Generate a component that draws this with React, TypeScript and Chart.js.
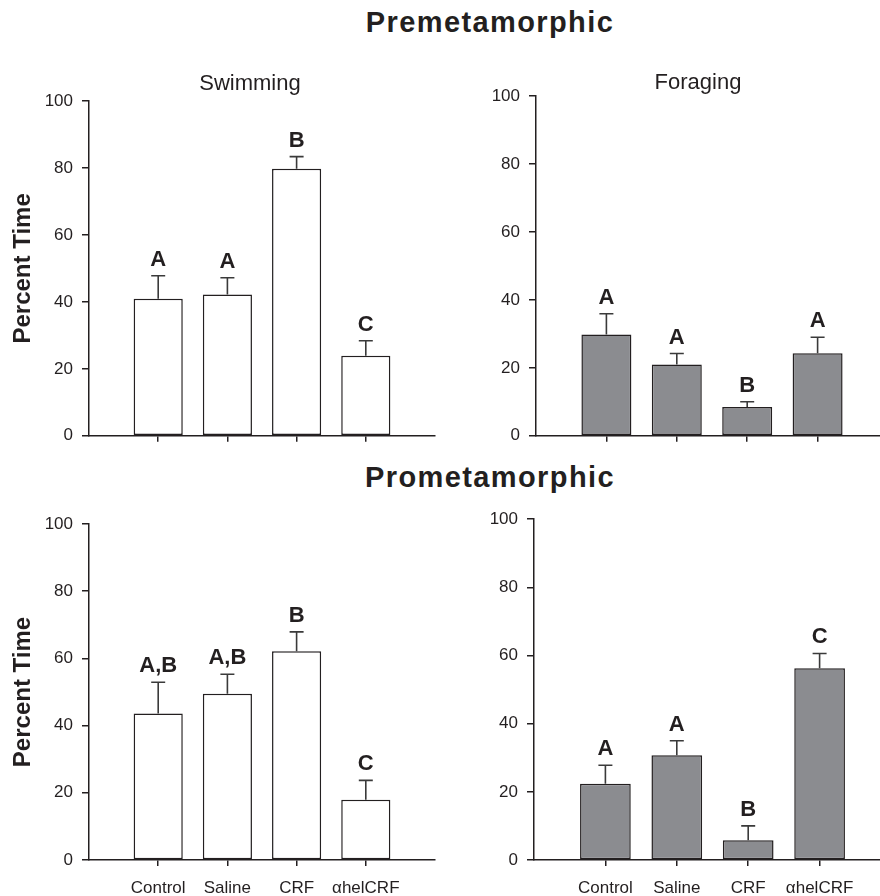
import React, { useEffect, useRef } from 'react';
import { Chart, registerables } from 'chart.js';
Chart.register(...registerables);

const categories = ['Control', 'Saline', 'CRF', 'αhelCRF'];
const yTicks = [0, 20, 40, 60, 80, 100];

const preSwimMean = [40.9, 42.2, 79.8, 23.9];
const preSwimErr = [6.9, 5.0, 3.6, 4.5];
const preSwimSig = ['A', 'A', 'B', 'C'];

const preForageMean = [29.8, 21.0, 8.5, 24.3];
const preForageErr = [6.1, 3.2, 1.5, 4.7];
const preForageSig = ['A', 'A', 'B', 'A'];

const proSwimMean = [43.6, 49.5, 62.1, 17.9];
const proSwimErr = [9.3, 5.8, 5.8, 5.8];
const proSwimSig = ['A,B', 'A,B', 'B', 'C'];

const proForageMean = [22.4, 30.7, 5.8, 56.3];
const proForageErr = [5.4, 4.3, 4.2, 4.3];
const proForageSig = ['A', 'A', 'B', 'C'];

const INK = '#231f20';
const FONT = '"Liberation Sans", Arial, Helvetica, sans-serif';

type Area = { left: number; top: number; right: number; bottom: number };
type PanelProps = {
  left: number; top: number; width: number; height: number;
  area: Area;
  means: number[]; errs: number[]; sigs: string[];
  fill: string;
  subtitle?: string; subX?: number; subY?: number;
  showYTitle: boolean; showXLabels: boolean;
};

function Panel(p: PanelProps) {
  const ref = useRef<HTMLCanvasElement | null>(null);
  useEffect(() => {
    if (!ref.current) return;
    const labels = ['', ...categories, ''];
    const data = [null, ...p.means, null];
    const overlay = {
      id: 'overlay',
      afterDatasetsDraw(chart: any) {
        const ctx = chart.ctx;
        const xs = chart.scales.x;
        const ys = chart.scales.y;
        ctx.save();
        for (let i = 0; i < p.means.length; i++) {
          const x = xs.getPixelForValue(i + 1);
          const yTop = ys.getPixelForValue(p.means[i]);
          const yErr = ys.getPixelForValue(p.means[i] + p.errs[i]);
          ctx.strokeStyle = '#3a3a3a';
          ctx.lineWidth = 1.6;
          ctx.beginPath();
          ctx.moveTo(x, yTop);
          ctx.lineTo(x, yErr);
          ctx.moveTo(x - 7, yErr);
          ctx.lineTo(x + 7, yErr);
          ctx.stroke();
          ctx.fillStyle = INK;
          ctx.font = `bold 22px ${FONT}`;
          ctx.textAlign = 'center';
          ctx.textBaseline = 'alphabetic';
          ctx.fillText(p.sigs[i], x, yErr - 10);
        }
        if (p.subtitle) {
          ctx.fillStyle = INK;
          ctx.font = `22px ${FONT}`;
          ctx.textAlign = 'center';
          ctx.textBaseline = 'alphabetic';
          ctx.fillText(p.subtitle, p.subX, p.subY);
        }
        ctx.restore();
      },
    };
    const chart = new Chart(ref.current, {
      type: 'bar',
      data: {
        labels,
        datasets: [
          {
            data,
            backgroundColor: p.fill,
            borderColor: INK,
            borderWidth: 1.5,
            borderSkipped: false,
            categoryPercentage: 1,
            barPercentage: 0.71,
          } as any,
        ],
      },
      options: {
        responsive: false,
        animation: false,
        devicePixelRatio: 1,
        layout: {
          padding: {
            top: p.area.top,
            right: p.width - p.area.right,
            left: 0,
            bottom: 0,
          },
        },
        plugins: {
          legend: { display: false },
          tooltip: { enabled: false },
          title: { display: false },
        },
        scales: {
          x: {
            type: 'category',
            offset: false,
            grid: {
              display: true,
              offset: false,
              drawOnChartArea: false,
              drawTicks: true,
              tickLength: 6,
              lineWidth: 1.5,
              color: (c: any) => (c.index === 0 || c.index === labels.length - 1 ? 'rgba(0,0,0,0)' : INK),
            },
            border: { display: true, color: INK, width: 1.5 },
            ticks: {
              display: p.showXLabels,
              autoSkip: false,
              maxRotation: 0,
              padding: 2,
              color: INK,
              font: { family: FONT, size: 17, lineHeight: 2.35 },
            },
            afterFit: (s: any) => {
              s.height = p.height - p.area.bottom;
            },
          },
          y: {
            type: 'linear',
            min: 0,
            max: 100,
            afterBuildTicks: (s: any) => {
              s.ticks = yTicks.map((v) => ({ value: v }));
            },
            grid: {
              display: true,
              drawOnChartArea: false,
              drawTicks: true,
              tickLength: 7,
              lineWidth: 1.5,
              color: INK,
            },
            border: { display: true, color: INK, width: 1.5 },
            ticks: {
              padding: 9,
              color: INK,
              font: { family: FONT, size: 17 },
            },
            title: {
              display: p.showYTitle,
              text: 'Percent Time',
              color: INK,
              font: { family: FONT, size: 24, weight: 'bold' },
              padding: { top: 9, bottom: 0 },
            },
            afterFit: (s: any) => {
              s.width = p.area.left;
            },
          },
        },
      } as any,
      plugins: [overlay],
    });
    return () => chart.destroy();
  }, []);
  return (
    <canvas
      ref={ref}
      width={p.width}
      height={p.height}
      style={{ position: 'absolute', left: p.left, top: p.top, width: p.width, height: p.height }}
    />
  );
}

const titleStyle = (top: number): React.CSSProperties => ({
  position: 'absolute',
  left: 0,
  width: 980,
  top,
  textAlign: 'center',
  font: `bold 29px/29px ${FONT}`,
  letterSpacing: '1.4px',
  color: INK,
  whiteSpace: 'nowrap',
});

export default function App() {
  return (
    <div
      style={{
        position: 'absolute',
        left: 0,
        top: 0,
        width: 880,
        height: 896,
        overflow: 'hidden',
        background: '#fff',
      }}
    >
      <div style={titleStyle(8)}>Premetamorphic</div>
      <div style={titleStyle(463)}>Prometamorphic</div>
      <Panel
        left={0} top={55} width={440} height={400}
        area={{ left: 89, top: 46, right: 435, bottom: 383 }}
        means={preSwimMean} errs={preSwimErr} sigs={preSwimSig}
        fill="#ffffff" subtitle="Swimming" subX={250} subY={35}
        showYTitle={true} showXLabels={false}
      />
      <Panel
        left={440} top={55} width={460} height={400}
        area={{ left: 96, top: 41, right: 448, bottom: 383 }}
        means={preForageMean} errs={preForageErr} sigs={preForageSig}
        fill="#8b8c90" subtitle="Foraging" subX={258} subY={34}
        showYTitle={false} showXLabels={false}
      />
      <Panel
        left={0} top={500} width={440} height={396}
        area={{ left: 89, top: 24, right: 435, bottom: 360 }}
        means={proSwimMean} errs={proSwimErr} sigs={proSwimSig}
        fill="#ffffff"
        showYTitle={true} showXLabels={true}
      />
      <Panel
        left={440} top={500} width={460} height={396}
        area={{ left: 94, top: 14, right: 451, bottom: 360 }}
        means={proForageMean} errs={proForageErr} sigs={proForageSig}
        fill="#8b8c90"
        showYTitle={false} showXLabels={true}
      />
    </div>
  );
}
